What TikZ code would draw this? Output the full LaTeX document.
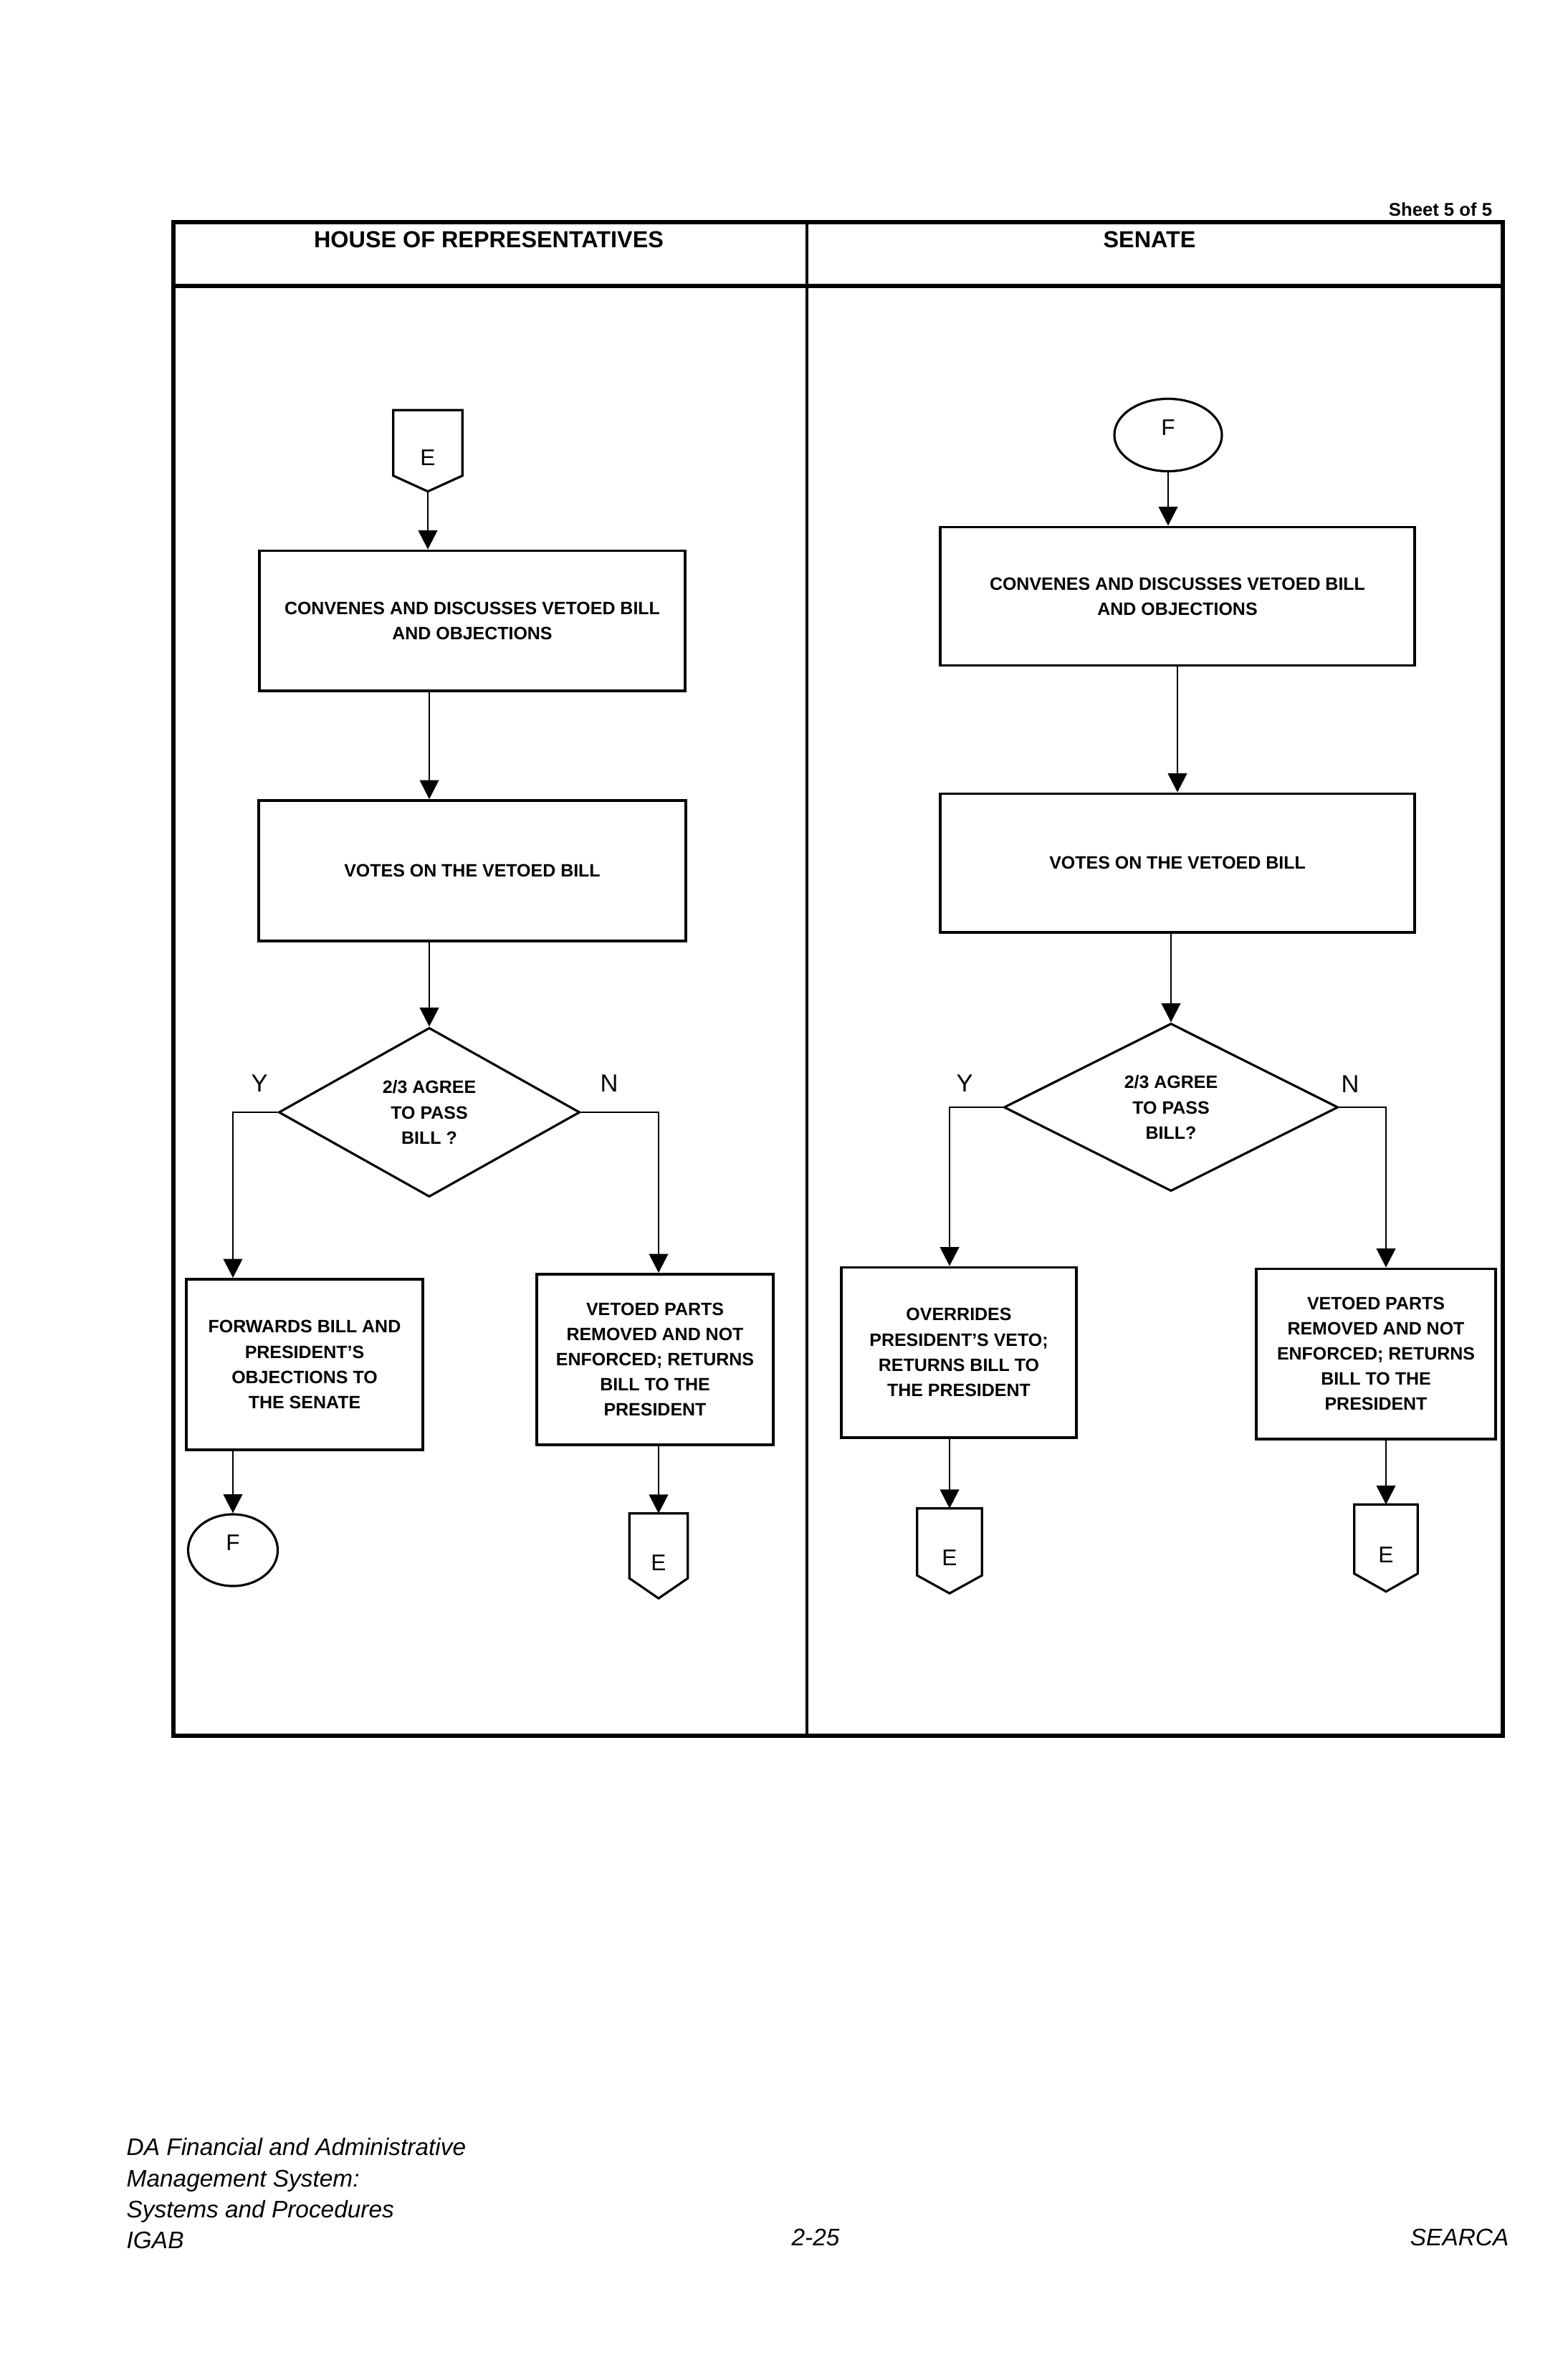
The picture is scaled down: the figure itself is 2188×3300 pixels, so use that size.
\documentclass[tikz,border=0pt]{standalone}
\usepackage{fontspec}
\setmainfont{Liberation Sans}
\usetikzlibrary{shapes.geometric,arrows.meta,calc}
\newcommand\offpagepent[2]{\draw[conn] (#1.north west) -- (#1.north east) -- ($(#1.south east)+(0,-#2)$) -- (#1.south) -- ($(#1.south west)+(0,-#2)$) -- cycle;}
\begin{document}
\begin{tikzpicture}[x=0.01cm,y=-0.01cm,
  box/.style={draw,line width=1.1pt,align=center,inner sep=0pt,font=\bfseries\fontsize{7.1}{10}\selectfont},
  dec/.style={draw,diamond,line width=0.9pt,align=center,inner sep=0pt,font=\bfseries\fontsize{7.1}{10.2}\selectfont},
  conn/.style={line width=0.9pt},
  arr/.style={line width=0.8pt,-{Triangle[length=7.5pt,width=7.5pt]}},
  yn/.style={font=\fontsize{9.8}{11}\selectfont,inner sep=0pt},
  letter/.style={font=\fontsize{9}{10}\selectfont,inner sep=0pt},
  pg/.style={letter,text height=11.4pt,text depth=0pt},
  fc/.style={letter,ellipse,draw,line width=0.9pt,text height=6.4pt,text depth=6.3pt},
  hdr/.style={font=\bfseries\fontsize{9.2}{11}\selectfont,inner sep=0pt},
  foot/.style={font=\itshape\fontsize{9.5}{12.3}\selectfont,inner sep=0pt}
]
\useasboundingbox (0,0) rectangle (2188,3300);
\fill[white] (0,0) rectangle (2188,3300);
% frame
\draw[line width=1.7pt] (242,310) rectangle (2097,2422);
\draw[line width=1.5pt] (242,399) -- (2097,399);
\draw[line width=1.1pt] (1126,310) -- (1126,2422);
\node[hdr] (hHouse) at (682,334) {HOUSE OF REPRESENTATIVES};
\node[hdr] (hSen) at (1604,334) {SENATE};
\node[font=\bfseries\fontsize{7.3}{9}\selectfont,inner sep=0pt] (sheet) at (2010,292) {Sheet 5 of 5};
% left column
\node[pg,minimum width=0.95cm,minimum height=1.12cm] (E0) at (597,629) {E};
\node[box,minimum width=5.93cm,minimum height=1.95cm] (b1) at (659,866) {CONVENES AND DISCUSSES VETOED BILL\\AND OBJECTIONS};
\node[box,minimum width=5.95cm,minimum height=1.96cm] (b2) at (659,1215) {VOTES ON THE VETOED BILL};
\node[dec,minimum width=4.2cm,minimum height=2.36cm] (d1) at (599,1552) {2/3 AGREE\\TO PASS\\BILL ?};
\node[yn] (y1) at (362,1512) {Y};
\node[yn] (n1) at (850,1512) {N};
\node[box,minimum width=3.29cm,minimum height=2.38cm] (b3) at (425,1904) {FORWARDS BILL AND\\PRESIDENT'S\\OBJECTIONS TO\\THE SENATE};
\node[box,minimum width=3.30cm,minimum height=2.38cm] (b4) at (914,1897) {VETOED PARTS\\REMOVED AND NOT\\ENFORCED; RETURNS\\BILL TO THE\\PRESIDENT};
\node[fc,minimum width=1.25cm,minimum height=1.0cm] (F1) at (325,2163) {F};
\node[pg,minimum width=0.80cm,minimum height=1.17cm] (E1) at (919,2171) {E};
% right column
\node[fc,minimum width=1.5cm,minimum height=1.01cm] (F0) at (1630,607) {F};
\node[box,minimum width=6.62cm,minimum height=1.93cm] (b5) at (1643,832) {CONVENES AND DISCUSSES VETOED BILL\\AND OBJECTIONS};
\node[box,minimum width=6.61cm,minimum height=1.93cm] (b6) at (1643,1204) {VOTES ON THE VETOED BILL};
\node[dec,minimum width=4.66cm,minimum height=2.34cm] (d2) at (1634,1545) {2/3 AGREE\\TO PASS\\BILL?};
\node[yn] (y2) at (1346,1512) {Y};
\node[yn] (n2) at (1884,1513) {N};
\node[box,minimum width=3.28cm,minimum height=2.37cm] (b7) at (1338,1887) {OVERRIDES\\PRESIDENT'S VETO;\\RETURNS BILL TO\\THE PRESIDENT};
\node[box,minimum width=3.33cm,minimum height=2.37cm] (b8) at (1920,1889) {VETOED PARTS\\REMOVED AND NOT\\ENFORCED; RETURNS\\BILL TO THE\\PRESIDENT};
\node[pg,minimum width=0.89cm,minimum height=1.17cm] (E2) at (1325,2164) {E};
\node[pg,minimum width=0.87cm,minimum height=1.20cm] (E3) at (1934,2160) {E};
% off-page connector outlines
\offpagepent{E0}{22}
\offpagepent{E1}{28}
\offpagepent{E2}{25}
\offpagepent{E3}{25}
% connectors left
\draw[arr] (E0.south) -- (b1.north -| E0);
\draw[arr] (b1.south -| d1) -- (b2.north -| d1);
\draw[arr] (b2.south -| d1) -- (d1.north);
\draw[arr] (d1.west) -| (b3.north -| F1);
\draw[arr] (d1.east) -| (b4.north -| E1);
\draw[arr] (b3.south -| F1) -- (F1.north);
\draw[arr] (b4.south -| E1) -- (E1.north);
% connectors right
\draw[arr] (F0.south) -- (b5.north -| F0);
\draw[arr] (b5) -- (b6);
\draw[arr] (b6.south -| d2) -- (d2.north);
\draw[arr] (d2.west) -| (b7.north -| E2);
\draw[arr] (d2.east) -| (b8.north -| E3);
\draw[arr] (b7.south -| E2) -- (E2.north);
\draw[arr] (b8.south -| E3) -- (E3.north);
% footer
\node[foot,anchor=north west,align=left] (foot1) at (176,2983) {DA Financial and Administrative\\Management System:\\Systems and Procedures\\IGAB};
\node[foot] (pgno) at (1138,3122) {2-25};
\node[foot,anchor=east] (searca) at (2106,3122) {SEARCA};
\end{tikzpicture}
\end{document}
